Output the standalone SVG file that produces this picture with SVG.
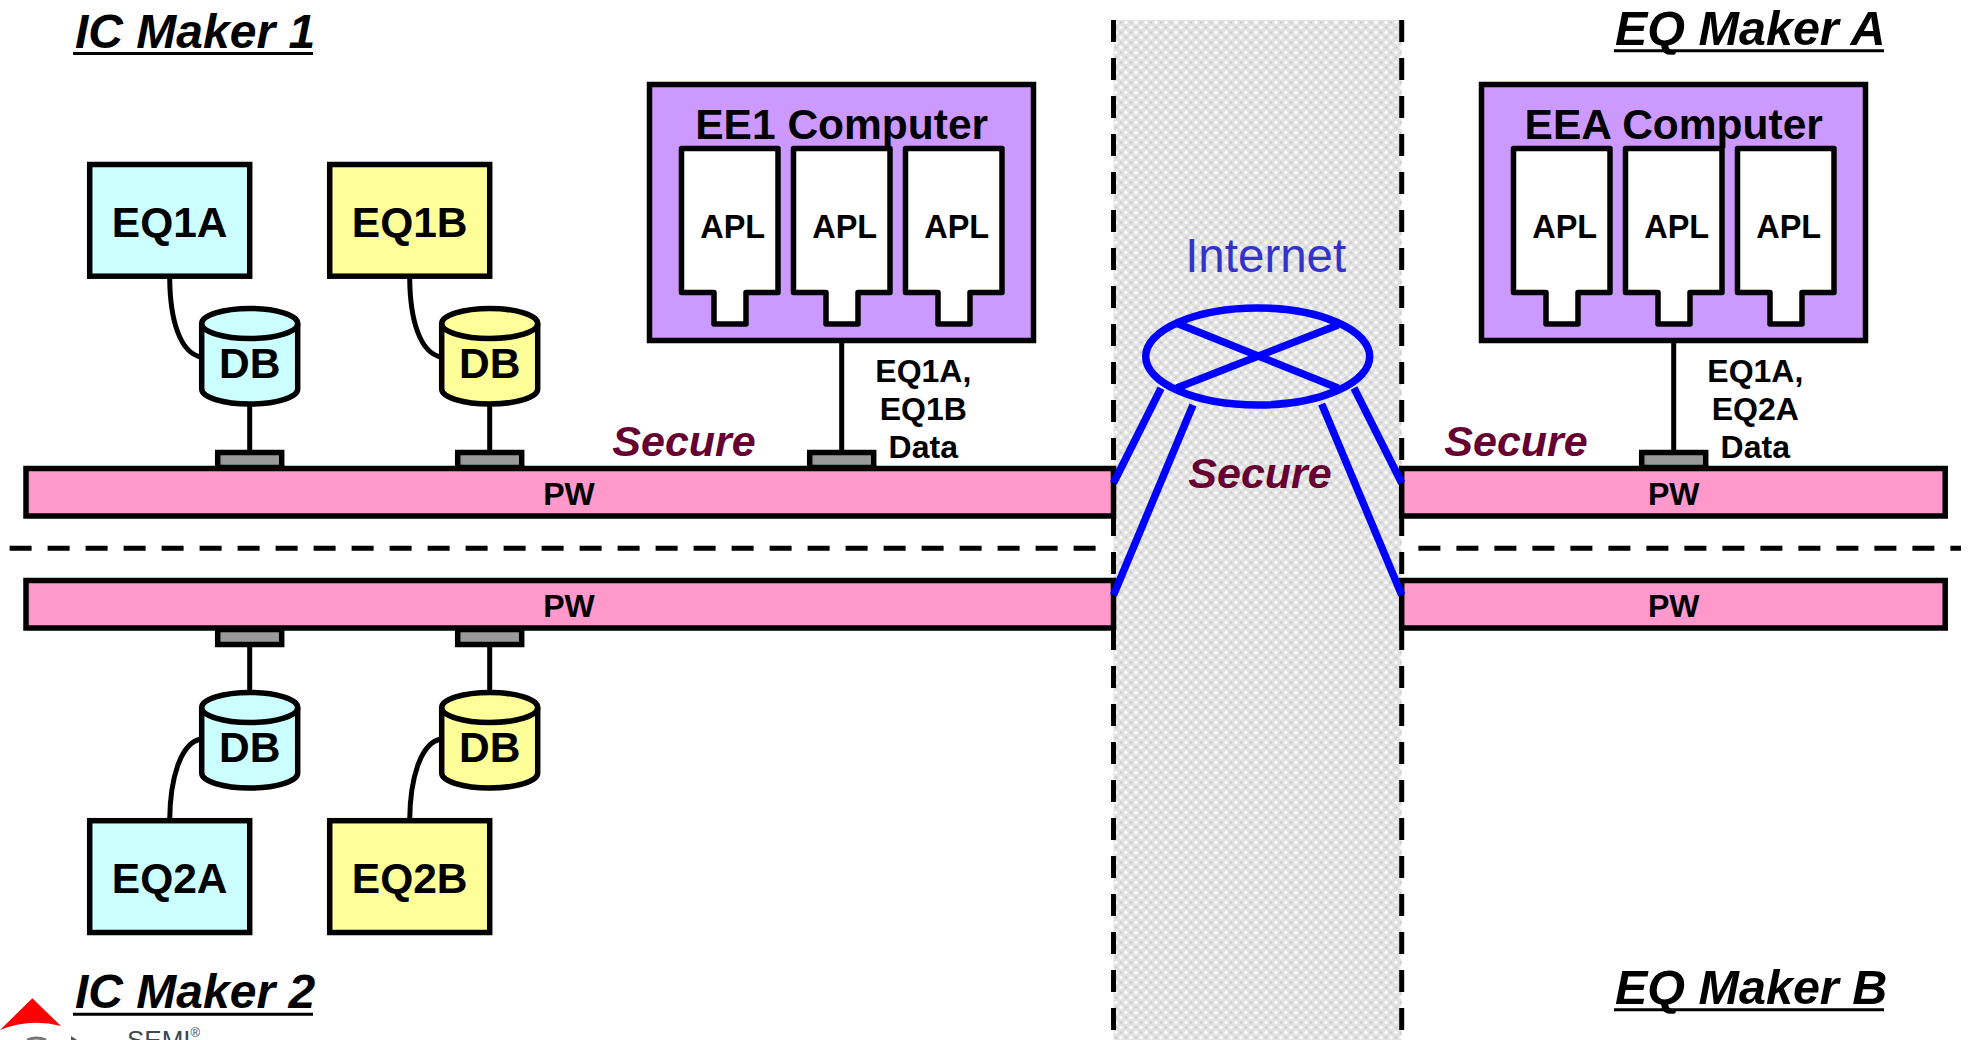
<svg xmlns="http://www.w3.org/2000/svg" xmlns:xlink="http://www.w3.org/1999/xlink" width="1969" height="1040" viewBox="0 0 1969 1040">
<style>
text{font-family:"Liberation Sans",Arial,sans-serif;font-weight:bold;text-anchor:middle;fill:#000}
.box{stroke:#000;stroke-width:5.500}
.cy{fill:#ccffff}.ye{fill:#ffff99}.pk{fill:#ff99cc}.pu{fill:#cc99ff}.gr{fill:#999999}
.wire{fill:none;stroke:#000;stroke-width:5}
.blue{fill:none;stroke:#0000ff;stroke-width:7.500}
.dash{fill:none;stroke:#000;stroke-width:5;stroke-dasharray:22 16}
.eq{font-size:42.500px}.apl{font-size:32.500px}.comp{font-size:42.500px}.pw{font-size:32px}.data{font-size:32px}
.sec{font-size:43px;font-style:italic;fill:#660033}
.ttl{font-size:48px;font-style:italic;text-anchor:start}
.cyl{stroke:#000;stroke-width:5.500;stroke-linejoin:round}
.apls{fill:#fff;stroke:#000;stroke-width:5.500;stroke-linejoin:round}
</style>
<defs>
<pattern id="net" width="10" height="10" patternUnits="userSpaceOnUse" x="1113.500" y="20">
<rect width="10" height="10" fill="#e2e2e2"/>
<path d="M2.500 0.500L4.500 2.500L2.500 4.500L0.500 2.500ZM7.500 5.500L9.500 7.500L7.500 9.500L5.500 7.500Z" fill="#ffffff"/>
<path d="M7.500 1L9 2.500L7.500 4L6 2.500ZM2.500 6L4 7.500L2.500 9L1 7.500Z" fill="#c8c8c8"/>
</pattern>
<g id="cylinder">
<path d="M-48 0V65.500A48 15 0 0 0 48 65.500V0"/>
<ellipse cx="0" cy="0" rx="48" ry="15"/>
</g>
<path id="aplshape" d="M0 0H96.500V144H64.500V175.500H32.500V144H0Z"/>
</defs>

<rect id="internet-band" x="1113.500" y="20" width="288.200" height="1020" fill="url(#net)"/>

<g id="connectors">
<path class="wire" d="M169.700 278C170 320 180 353 201 357"/>
<path class="wire" d="M409.700 278C410 320 420 353 441 357"/>
<path class="wire" d="M169.700 820C170 780 180 743 201 739"/>
<path class="wire" d="M409.700 820C410 780 420 743 441 739"/>
<path class="wire" d="M249.700 405V452M489.700 405V452M249.700 645V692M489.700 645V692M841.700 342V452M1673.700 342V452"/>
<path class="dash" d="M1113.500 20V1040"/>
<path class="dash" d="M1401.700 20V1040"/>
<path class="dash" d="M9.600 548.300H1098"/>
<path class="dash" d="M1418.400 548.300H1961"/>
</g>

<g id="pw-1-left"><rect class="box pk" x="26" y="468.500" width="1087.500" height="47.500"/><text class="pw" x="569" y="504.500">PW</text></g>
<g id="pw-1-right"><rect class="box pk" x="1401.700" y="468.500" width="543.500" height="47.500"/><text class="pw" x="1673.700" y="504.500">PW</text></g>
<g id="pw-2-left"><rect class="box pk" x="26" y="580.500" width="1087.500" height="47.500"/><text class="pw" x="569" y="616.500">PW</text></g>
<g id="pw-2-right"><rect class="box pk" x="1401.700" y="580.500" width="543.500" height="47.500"/><text class="pw" x="1673.700" y="616.500">PW</text></g>

<g id="port-eq1a"><rect class="box gr" x="217.700" y="452.500" width="64" height="15"/></g>
<g id="port-eq1b"><rect class="box gr" x="457.700" y="452.500" width="64" height="15"/></g>
<g id="port-ee1"><rect class="box gr" x="809.700" y="452.500" width="64" height="15"/></g>
<g id="port-eea"><rect class="box gr" x="1641.700" y="452.500" width="64" height="15"/></g>
<g id="port-eq2a"><rect class="box gr" x="217.700" y="629.500" width="64" height="15"/></g>
<g id="port-eq2b"><rect class="box gr" x="457.700" y="629.500" width="64" height="15"/></g>

<g id="eq1a"><rect class="box cy" x="89.700" y="164.500" width="160" height="111.700"/><text class="eq" x="169.700" y="237.300">EQ1A</text></g>
<g id="eq1b"><rect class="box ye" x="329.700" y="164.500" width="160" height="111.700"/><text class="eq" x="409.700" y="237.300">EQ1B</text></g>
<g id="eq2a"><rect class="box cy" x="89.700" y="820.700" width="160" height="111.800"/><text class="eq" x="169.700" y="893.300">EQ2A</text></g>
<g id="eq2b"><rect class="box ye" x="329.700" y="820.700" width="160" height="111.800"/><text class="eq" x="409.700" y="893.300">EQ2B</text></g>

<g id="db-1a"><use xlink:href="#cylinder" href="#cylinder" x="249.700" y="323.500" class="cyl cy"/><text class="eq" x="249.700" y="377.700">DB</text></g>
<g id="db-1b"><use xlink:href="#cylinder" href="#cylinder" x="489.700" y="323.500" class="cyl ye"/><text class="eq" x="489.700" y="377.700">DB</text></g>
<g id="db-2a"><use xlink:href="#cylinder" href="#cylinder" x="249.700" y="707.500" class="cyl cy"/><text class="eq" x="249.700" y="761.500">DB</text></g>
<g id="db-2b"><use xlink:href="#cylinder" href="#cylinder" x="489.700" y="707.500" class="cyl ye"/><text class="eq" x="489.700" y="761.500">DB</text></g>

<g id="ee1-computer">
<rect class="box pu" x="649.500" y="84.500" width="384" height="256"/>
<text class="comp" x="841.700" y="139">EE1 Computer</text>
<use xlink:href="#aplshape" href="#aplshape" x="681.500" y="148.500" class="apls"/>
<use xlink:href="#aplshape" href="#aplshape" x="793.500" y="148.500" class="apls"/>
<use xlink:href="#aplshape" href="#aplshape" x="905.500" y="148.500" class="apls"/>
<text class="apl" x="732.700" y="237.700">APL</text>
<text class="apl" x="844.700" y="237.700">APL</text>
<text class="apl" x="956.700" y="237.700">APL</text>
</g>
<g id="eea-computer">
<rect class="box pu" x="1481.500" y="84.500" width="384" height="256"/>
<text class="comp" x="1673.700" y="139">EEA Computer</text>
<use xlink:href="#aplshape" href="#aplshape" x="1513.500" y="148.500" class="apls"/>
<use xlink:href="#aplshape" href="#aplshape" x="1625.500" y="148.500" class="apls"/>
<use xlink:href="#aplshape" href="#aplshape" x="1737.500" y="148.500" class="apls"/>
<text class="apl" x="1564.700" y="237.700">APL</text>
<text class="apl" x="1676.700" y="237.700">APL</text>
<text class="apl" x="1788.700" y="237.700">APL</text>
</g>

<g id="internet">
<ellipse class="blue" cx="1257.700" cy="356.500" rx="112" ry="48.500"/>
<path class="blue" d="M1176.700 323.300L1338 388M1176.700 388L1338 325M1161 388.300L1113.500 483M1193 405L1113.500 595M1321.700 404L1401.700 595M1354 388L1401.700 483"/>
<text x="1265.700" y="272" style="font-size:47.500px;font-weight:normal;fill:#3333cc">Internet</text>
</g>

<g id="labels">
<text class="data" x="923.300" y="382">EQ1A,</text>
<text class="data" x="923.300" y="420">EQ1B</text>
<text class="data" x="923.300" y="458">Data</text>
<text class="data" x="1755.300" y="382">EQ1A,</text>
<text class="data" x="1755.300" y="420">EQ2A</text>
<text class="data" x="1755.300" y="458">Data</text>
<text class="sec" x="684" y="455.500">Secure</text>
<text class="sec" x="1516" y="455.500">Secure</text>
<text class="sec" x="1260" y="487.800">Secure</text>
<text class="ttl" x="75" y="47.500">IC Maker 1</text>
<text class="ttl" x="75" y="1008.300">IC Maker 2</text>
<text class="ttl" x="1615" y="45" style="font-size:48.500px">EQ Maker A</text>
<text class="ttl" x="1615" y="1004" style="font-size:48.500px">EQ Maker B</text>
<path d="M73 53.500H313M73 1014.300H313M1614 50.700H1884M1614 1009.700H1884" fill="none" stroke="#000" stroke-width="3"/>
</g>

<g id="semi-logo">
<path d="M32.300 998.300L61 1026Q30 1018 0 1030Z" fill="#ff0000"/>
<path d="M27 1040Q36 1036 46 1040" fill="none" stroke="#777777" stroke-width="3"/>
<path d="M71 1036L77 1040H71Z" fill="#555555"/>
<text x="127" y="1048.600" style="font-size:26px;font-weight:normal;text-anchor:start;fill:#3a4a50">SEMI<tspan style="font-size:13px" dy="-12">®</tspan></text>
</g>
</svg>
